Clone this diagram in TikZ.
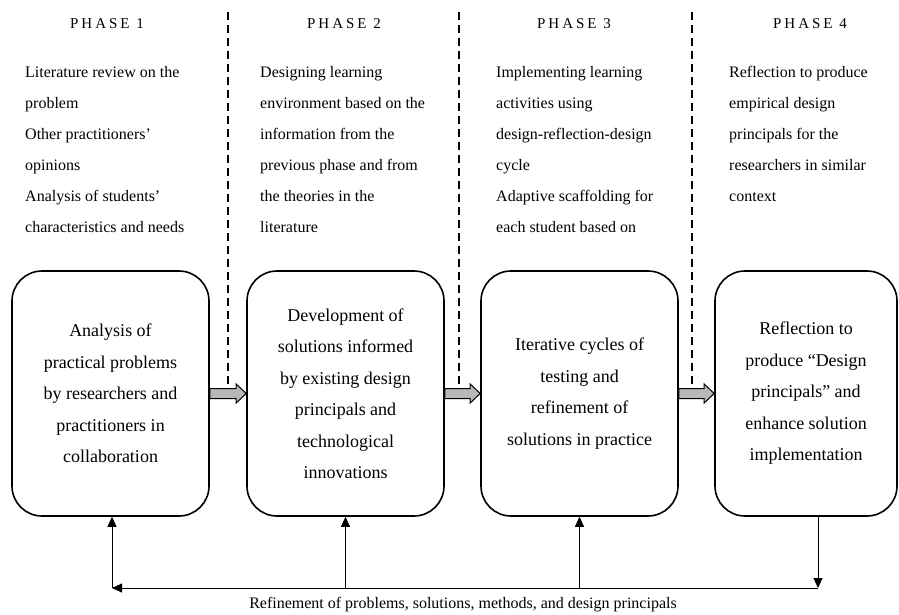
\documentclass[tikz,border=0pt]{standalone}
\usepackage{fontspec}
\setmainfont{Liberation Serif}
\usetikzlibrary{arrows.meta,calc}
\newcommand\blkarrow[2]{%
  \draw[blockarrow] ($(#1.east)+(0,-5)$) -- ($(#2.west)+(-10,-5)$) -- ($(#2.west)+(-10,-9.5)$) -- (#2.west)
    -- ($(#2.west)+(-10,9.5)$) -- ($(#2.west)+(-10,5)$) -- ($(#1.east)+(0,5)$) -- cycle;}
\begin{document}
\begin{tikzpicture}[x=1pt,y=-1pt,
  phasehead/.style={font=\fontsize{15}{18}\selectfont\addfontfeature{LetterSpace=20}, inner sep=0},
  coltext/.style={font=\fontsize{16}{31}\selectfont, align=left, anchor=north west, inner sep=0},
  stagebox/.style={draw, line width=1.6pt, rounded corners=30pt, minimum width=197pt, minimum height=245pt,
    align=center, font=\fontsize{18}{31.5}\selectfont, inner sep=0},
  blockarrow/.style={draw, line width=1pt, fill=black!28, line join=miter},
  divider/.style={line width=1.5pt, dash pattern=on 8pt off 5pt},
  feedback/.style={line width=0.9pt, -{Triangle[length=10pt,width=9pt]}},
]
\useasboundingbox (0,0) rectangle (899,615);

% headings
\node[phasehead] (h1) at (107,24) {PHASE 1};
\node[phasehead] (h2) at (344,24) {PHASE 2};
\node[phasehead] (h3) at (574,24) {PHASE 3};
\node[phasehead] (h4) at (810,24) {PHASE 4};

% column texts
\node[coltext] (t1) at (25,66) {Literature review on the\\ problem\\ Other practitioners'\\ opinions\\ Analysis of students'\\ characteristics and needs};
\node[coltext] (t2) at (260,66) {Designing learning\\ environment based on the\\ information from the\\ previous phase and from\\ the theories in the\\ literature};
\node[coltext] (t3) at (496,66) {Implementing learning\\ activities using\\ design-reflection-design\\ cycle\\ Adaptive scaffolding for\\ each student based on};
\node[coltext] (t4) at (729,66) {Reflection to produce\\ empirical design\\ principals for the\\ researchers in similar\\ context};

% dividers
\draw[divider] (228,12) -- (228,387);
\draw[divider] (459,12) -- (459,387);
\draw[divider] (692,12) -- (692,387);

% stage boxes
\node[stagebox] (b1) at (110.5,393.5) {Analysis of\\ practical problems\\ by researchers and\\ practitioners in\\ collaboration};
\node[stagebox] (b2) at (345.5,393.5) {Development of\\ solutions informed\\ by existing design\\ principals and\\ technological\\ innovations};
\node[stagebox] (b3) at (579.5,393.5) {Iterative cycles of\\ testing and\\ refinement of\\ solutions in practice};
\node[stagebox, minimum width=182pt] (b4) at (806,393.5) {Reflection to\\ produce ``Design\\ principals'' and\\ enhance solution\\ implementation};

% block arrows
\blkarrow{b1}{b2}
\blkarrow{b2}{b3}
\blkarrow{b3}{b4}

% feedback loop
\coordinate (r4) at (818,588);
\coordinate (l1) at (112,588);
\draw[feedback] (b4.south -| r4) -- (r4);
\draw[feedback] (r4) -- (l1);
\draw[feedback] (l1) -- (b1.south -| l1);
\draw[feedback] (b2.south |- l1) -- (b2.south);
\draw[feedback] (b3.south |- l1) -- (b3.south);

\node[font=\fontsize{16}{18}\selectfont, inner sep=0] (cap) at (463,605) {Refinement of problems, solutions, methods, and design principals};
\end{tikzpicture}
\end{document}
